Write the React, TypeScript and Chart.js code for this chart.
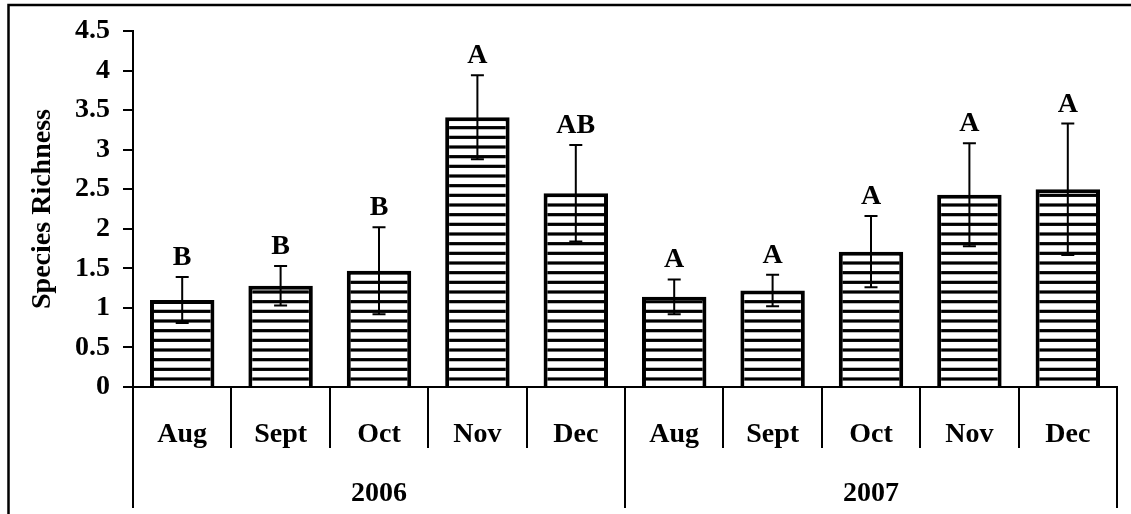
import React, { useEffect, useRef } from 'react';
import { Chart, registerables } from 'chart.js';

Chart.register(...registerables);

const years = ['2006', '2007'];
const months = ['Aug', 'Sept', 'Oct', 'Nov', 'Dec'];
const means = [1.1, 1.28, 1.47, 3.41, 2.45, 1.14, 1.22, 1.71, 2.43, 2.5];
const errors = [0.29, 0.25, 0.55, 0.53, 0.61, 0.22, 0.2, 0.45, 0.65, 0.83];
const letters = ['B', 'B', 'B', 'A', 'AB', 'A', 'A', 'A', 'A', 'A'];
const yMin = 0;
const yMax = 4.5;
const yStep = 0.5;
const yTitle = 'Species Richness';

const FONT = "'Liberation Serif', 'Times New Roman', serif";
const FONT_SIZE = 28;

function makePattern(ctx: CanvasRenderingContext2D) {
  const c = document.createElement('canvas');
  c.width = 8;
  c.height = 29;
  const p = c.getContext('2d')!;
  p.fillStyle = '#ffffff';
  p.fillRect(0, 0, 8, 29);
  p.fillStyle = '#000000';
  for (let k = 0; k < 3; k++) p.fillRect(0, (k * 29) / 3 + 0.4, 8, 3.2);
  return ctx.createPattern(c, 'repeat');
}

const decorPlugin = {
  id: 'decor',
  afterDraw(chart: any) {
    const ctx = chart.ctx as CanvasRenderingContext2D;
    const xs = chart.scales.x;
    const ys = chart.scales.y;
    const n = xs.getLabels().length;
    const axisY = ys.getPixelForValue(yMin);
    const font = `bold ${FONT_SIZE}px ${FONT}`;
    ctx.save();
    // outer frame (top & left)
    ctx.strokeStyle = '#000';
    ctx.lineWidth = 2.5;
    ctx.beginPath();
    ctx.moveTo(8.5, chart.height);
    ctx.lineTo(8.5, 5);
    ctx.lineTo(chart.width, 5);
    ctx.stroke();

    // category separators
    ctx.lineWidth = 2;
    const perYear = months.length;
    for (let i = 0; i <= n; i++) {
      const bx = Math.round(xs.getPixelForValue(i - 0.5));
      const isYear = i % perYear === 0;
      ctx.beginPath();
      ctx.moveTo(bx, axisY);
      ctx.lineTo(bx, isYear ? axisY + 121 : axisY + 61);
      ctx.stroke();
    }
    // month labels
    ctx.fillStyle = '#000';
    ctx.font = font;
    ctx.textAlign = 'center';
    ctx.textBaseline = 'alphabetic';
    xs.getLabels().forEach((lab: string, i: number) => {
      ctx.fillText(lab, xs.getPixelForValue(i), axisY + 55);
    });
    // year labels
    years.forEach((yr, k) => {
      const a = xs.getPixelForValue(k * perYear - 0.5);
      const b = xs.getPixelForValue((k + 1) * perYear - 0.5);
      ctx.fillText(yr, (a + b) / 2, axisY + 114);
    });

    // error bars and letters
    const meta = chart.getDatasetMeta(0);
    meta.data.forEach((bar: any, i: number) => {
      const cx = bar.x;
      const top = ys.getPixelForValue(means[i] + errors[i]);
      const bot = ys.getPixelForValue(means[i] - errors[i]);
      ctx.strokeStyle = '#000';
      ctx.lineWidth = 2;
      ctx.beginPath();
      ctx.moveTo(cx, top);
      ctx.lineTo(cx, bot);
      ctx.moveTo(cx - 6.5, top);
      ctx.lineTo(cx + 6.5, top);
      ctx.moveTo(cx - 6.5, bot);
      ctx.lineTo(cx + 6.5, bot);
      ctx.stroke();
      ctx.fillText(letters[i], cx, top - 12);
    });
    ctx.restore();
  },
};

export default function App() {
  const ref = useRef<HTMLCanvasElement>(null);
  useEffect(() => {
    const canvas = ref.current!;
    const ctx = canvas.getContext('2d')!;
    const pattern = makePattern(ctx);
    const labels = years.flatMap(() => months);
    const chart = new Chart(canvas, {
      type: 'bar',
      data: {
        labels,
        datasets: [
          {
            data: means,
            backgroundColor: pattern as any,
            borderColor: '#000',
            borderWidth: 4,
            barPercentage: 0.655,
            categoryPercentage: 1,
          },
        ],
      },
      plugins: [decorPlugin],
      options: {
        responsive: false,
        animation: false,
        devicePixelRatio: 1,
        layout: { padding: { top: 31, right: 14, bottom: 0, left: 0 } },
        plugins: { legend: { display: false }, tooltip: { enabled: false } },
        scales: {
          x: {
            ticks: { display: false },
            grid: { display: false },
            border: { display: true, color: '#000', width: 2 },
            afterFit: (s: any) => {
              s.height = 127;
            },
          },
          y: {
            min: yMin,
            max: yMax,
            ticks: {
              stepSize: yStep,
              color: '#000',
              padding: 13,
              font: { family: FONT, size: FONT_SIZE, weight: 'bold' },
              callback: (v: any) => String(Number(v)),
            },
            grid: {
              drawOnChartArea: false,
              drawTicks: true,
              tickLength: 10,
              color: '#000',
              lineWidth: 2,
            },
            border: { display: true, color: '#000', width: 2 },
            title: {
              display: true,
              text: yTitle,
              color: '#000',
              font: { family: FONT, size: FONT_SIZE, weight: 'bold' },
              padding: { top: 26, bottom: 0 },
            },
            afterFit: (s: any) => {
              s.width = 133;
            },
          },
        },
      },
    });
    return () => chart.destroy();
  }, []);
  return (
    <div style={{ position: 'fixed', left: 0, top: 0, width: 1131, height: 514, background: '#fff' }}>
      <canvas ref={ref} width={1131} height={514} style={{ display: 'block' }} />
    </div>
  );
}
